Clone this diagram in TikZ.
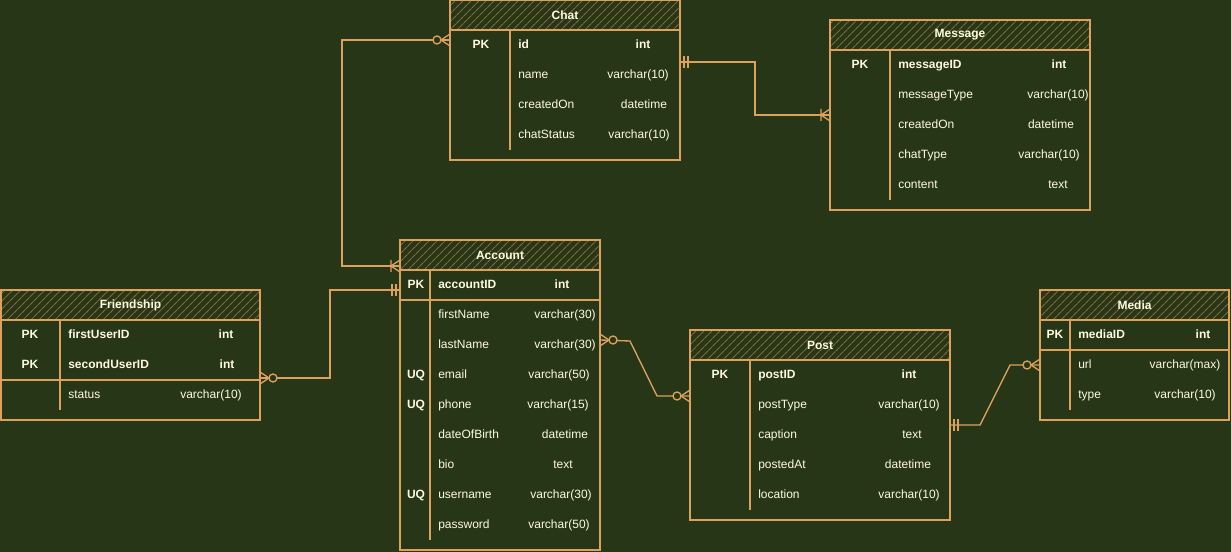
\documentclass[tikz,border=0pt]{standalone}
\usepackage{fontspec}
\setmainfont{Liberation Sans}[Scale=0.9]
\usetikzlibrary{patterns.meta}
\definecolor{moss}{HTML}{283618}
\definecolor{ochre}{HTML}{DDA15E}
\definecolor{cream}{HTML}{FEFAE0}
\colorlet{hatch}{ochre!50!moss}

\begin{document}
\begin{tikzpicture}[x=.75pt, y=-.75pt,
  tbl/.style={draw=ochre, line width=1pt, anchor=north west, inner sep=0pt, outer sep=0pt},
  tblhead/.style={tbl, pattern={Lines[angle=45,distance=4pt,line width=.8pt]}, pattern color=hatch, text=cream, font=\bfseries},
  keyc/.style={text=cream, font=\bfseries, inner sep=0pt, text height=6.5pt, text depth=1.5pt},
  fld/.style={text=cream, anchor=west, inner sep=0pt, text height=6.5pt, text depth=1.5pt},
  pkfld/.style={fld, font=\bfseries},
  typ/.style={text=cream, inner sep=0pt, text height=6.5pt, text depth=1.5pt},
  pktyp/.style={typ, font=\bfseries},
  rule/.style={draw=ochre, line width=1pt},
  link/.style={draw=ochre, line width=1pt},
  zmany/.pic={\draw[link] (0,-6) -- (9,0) -- (0,6); \draw[link, fill=moss] (13,0) circle (4);},
  omany/.pic={\draw[link] (0,-6) -- (9,0) -- (0,6) (9,-6) -- (9,6);},
  mone/.pic={\draw[link] (4,-6) -- (4,6) (8,-6) -- (8,6);}]
\path[use as bounding box, fill=moss] (0,0) rectangle (1231,552);

% Chat
\node[tbl, minimum width=230*.75pt, minimum height=160*.75pt] (chat) at (450,0) {};
\node[tblhead, minimum width=230*.75pt, minimum height=30*.75pt] (chatH) at (chat.north west) {Chat};
\draw[rule] (510,30) -- (510,150);
\node[keyc] (chatK1) at (481,45) {PK};
\node[pkfld] (chatF1) at (518,45) {id};          \node[pktyp] (chatT1) at (643,45) {int};
\node[fld] (chatF2) at (518,75) {name};          \node[typ] (chatT2) at (638,75) {varchar(10)};
\node[fld] (chatF3) at (518,105) {createdOn};    \node[typ] (chatT3) at (644,105) {datetime};
\node[fld] (chatF4) at (518,135) {chatStatus};   \node[typ] (chatT4) at (639,135) {varchar(10)};

% Message
\node[tbl, minimum width=260*.75pt, minimum height=190*.75pt] (msg) at (830,20) {};
\node[tblhead, minimum width=260*.75pt, minimum height=30*.75pt] (msgH) at (msg.north west) {Message};
\draw[rule] (890,50) -- (890,200);
\node[keyc] (msgK1) at (860,65) {PK};
\node[pkfld] (msgF1) at (898,65) {messageID};     \node[pktyp] (msgT1) at (1059,65) {int};
\node[fld] (msgF2) at (898,95) {messageType};     \node[typ] (msgT2) at (1058,95) {varchar(10)};
\node[fld] (msgF3) at (898,125) {createdOn};      \node[typ] (msgT3) at (1051,125) {datetime};
\node[fld] (msgF4) at (898,155) {chatType};       \node[typ] (msgT4) at (1049,155) {varchar(10)};
\node[fld] (msgF5) at (898,185) {content};        \node[typ] (msgT5) at (1058,185) {text};

% Account
\node[tbl, minimum width=200*.75pt, minimum height=310*.75pt] (acc) at (400,240) {};
\node[tblhead, minimum width=200*.75pt, minimum height=30*.75pt] (accH) at (acc.north west) {Account};
\draw[rule] (400,300) -- (600,300);
\draw[rule] (430,270) -- (430,540);
\node[keyc] (accK1) at (416,285) {PK};
\node[pkfld] (accF1) at (438,285) {accountID};    \node[pktyp] (accT1) at (562,285) {int};
\node[fld] (accF2) at (438,315) {firstName};      \node[typ] (accT2) at (565,315) {varchar(30)};
\node[fld] (accF3) at (438,345) {lastName};       \node[typ] (accT3) at (565,345) {varchar(30)};
\node[keyc] (accK4) at (416,375) {UQ};
\node[fld] (accF4) at (438,375) {email};          \node[typ] (accT4) at (559,375) {varchar(50)};
\node[keyc] (accK5) at (416,405) {UQ};
\node[fld] (accF5) at (438,405) {phone};          \node[typ] (accT5) at (558,405) {varchar(15)};
\node[fld] (accF6) at (438,435) {dateOfBirth};    \node[typ] (accT6) at (565,435) {datetime};
\node[fld] (accF7) at (438,465) {bio};            \node[typ] (accT7) at (563,465) {text};
\node[keyc] (accK8) at (416,495) {UQ};
\node[fld] (accF8) at (438,495) {username};       \node[typ] (accT8) at (561,495) {varchar(30)};
\node[fld] (accF9) at (438,525) {password};       \node[typ] (accT9) at (559,525) {varchar(50)};

% Friendship
\node[tbl, minimum width=259*.75pt, minimum height=130*.75pt] (fr) at (1,290) {};
\node[tblhead, minimum width=259*.75pt, minimum height=30*.75pt] (frH) at (fr.north west) {Friendship};
\draw[rule] (1,380) -- (260,380);
\draw[rule] (60,320) -- (60,410);
\node[keyc] (frK1) at (30,335) {PK};
\node[pkfld] (frF1) at (68,335) {firstUserID};    \node[pktyp] (frT1) at (226,335) {int};
\node[keyc] (frK2) at (30,365) {PK};
\node[pkfld] (frF2) at (68,365) {secondUserID};   \node[pktyp] (frT2) at (227,365) {int};
\node[fld] (frF3) at (68,395) {status};           \node[typ] (frT3) at (211,395) {varchar(10)};

% Post
\node[tbl, minimum width=260*.75pt, minimum height=190*.75pt] (post) at (690,330) {};
\node[tblhead, minimum width=260*.75pt, minimum height=30*.75pt] (postH) at (post.north west) {Post};
\draw[rule] (750,360) -- (750,510);
\node[keyc] (postK1) at (720,375) {PK};
\node[pkfld] (postF1) at (758,375) {postID};      \node[pktyp] (postT1) at (909,375) {int};
\node[fld] (postF2) at (758,405) {postType};      \node[typ] (postT2) at (909,405) {varchar(10)};
\node[fld] (postF3) at (758,435) {caption};       \node[typ] (postT3) at (912,435) {text};
\node[fld] (postF4) at (758,465) {postedAt};      \node[typ] (postT4) at (908,465) {datetime};
\node[fld] (postF5) at (758,495) {location};      \node[typ] (postT5) at (909,495) {varchar(10)};

% Media
\node[tbl, minimum width=189*.75pt, minimum height=130*.75pt] (media) at (1040,290) {};
\node[tblhead, minimum width=189*.75pt, minimum height=30*.75pt] (mediaH) at (media.north west) {Media};
\draw[rule] (1040,350) -- (1229,350);
\draw[rule] (1070,320) -- (1070,410);
\node[keyc] (mediaK1) at (1055,335) {PK};
\node[pkfld] (mediaF1) at (1078,335) {mediaID};   \node[pktyp] (mediaT1) at (1203,335) {int};
\node[fld] (mediaF2) at (1078,365) {url};         \node[typ] (mediaT2) at (1185,365) {varchar(max)};
\node[fld] (mediaF3) at (1078,395) {type};        \node[typ] (mediaT3) at (1185,395) {varchar(10)};

% relations
\coordinate (chatL) at ([yshift=-30pt]chat.north west);
\coordinate (chatR) at ([yshift=-46.5pt]chat.north east);
\coordinate (msgL) at ([yshift=-71.25pt]msg.north west);
\coordinate (accA) at ([yshift=-19.5pt]acc.north west);
\coordinate (accB) at ([yshift=-37.5pt]acc.north west);
\coordinate (accR) at ([yshift=-75pt]acc.north east);
\coordinate (frR) at ([yshift=-66pt]fr.north east);
\coordinate (postL) at ([yshift=-49.5pt]post.north west);
\coordinate (postR) at ([yshift=-71.25pt]post.north east);
\coordinate (mediaL) at ([yshift=-56.25pt]media.north west);

\draw[link] (chatL) -- ++(-108,0) |- (accA);
\draw[link] (chatR) -- ++(75,0) |- (msgL);
\draw[link] (frR) -- ++(70,0) |- (accB);
\draw[link] (accR) -- ++(30,1) -- ([xshift=-24.75pt]postL) -- (postL);
\draw[link] (postR) -- ++(30,0) -- ([xshift=-22.5pt]mediaL) -- (mediaL);

\pic[rotate=180] at (chatL) {zmany};
\pic at (chatR) {mone};
\pic[rotate=180] at (msgL) {omany};
\pic[rotate=180] at (accA) {omany};
\pic[rotate=180] at (accB) {mone};
\pic at (frR) {zmany};
\pic at (accR) {zmany};
\pic[rotate=180] at (postL) {zmany};
\pic at (postR) {mone};
\pic[rotate=180] at (mediaL) {zmany};
\end{tikzpicture}
\end{document}
